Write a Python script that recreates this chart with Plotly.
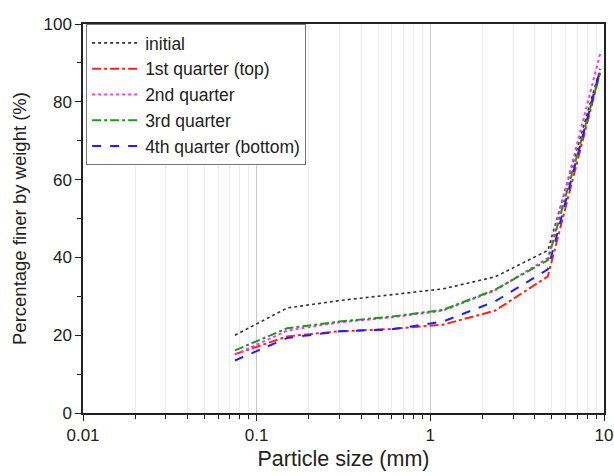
import plotly.graph_objects as go

sizes = [0.075, 0.15, 0.3, 0.6, 1.18, 2.36, 4.75, 9.5]
initial = [20.0, 27.0, 28.9, 30.4, 31.9, 35.0, 41.8, 88.5]
q1_top = [15.1, 19.7, 21.0, 21.6, 22.7, 26.3, 35.1, 87.5]
q2 = [15.0, 21.2, 23.3, 24.6, 26.3, 31.5, 39.8, 92.3]
q3 = [16.1, 21.8, 23.5, 24.8, 26.5, 31.7, 39.3, 87.5]
q4_bottom = [13.5, 19.3, 21.0, 21.5, 23.5, 28.7, 36.9, 88.3]

names = ["initial", "1st quarter (top)", "2nd quarter", "3rd quarter", "4th quarter (bottom)"]
series = [initial, q1_top, q2, q3, q4_bottom]
colors = ["#333333", "#ff2020", "#ff33ff", "#1a9a1a", "#2020ff"]
dashes = ["dot", "dashdot", "dot", "dashdot", "dash"]
widths = [1.6, 2, 2, 2, 2]

major_x = [0.01, 0.1, 1, 10]
minor_x = [m * d for d in (0.01, 0.1, 1) for m in range(2, 10)]

fig = go.Figure()
for n, s, c, d, w in zip(names, series, colors, dashes, widths):
    fig.add_trace(go.Scatter(x=sizes, y=s, name=n, mode="lines",
                             line=dict(color=c, dash=d, width=w)))

fig.update_layout(
    width=614, height=476,
    margin=dict(l=83, r=10, t=24, b=63),
    paper_bgcolor="white", plot_bgcolor="white",
    font=dict(family="Liberation Sans, Arial, sans-serif", size=17, color="#222"),
    legend=dict(x=0.006, y=1.0, xanchor="left", yanchor="top",
                bgcolor="white", bordercolor="#777", borderwidth=1,
                font=dict(size=17.5), tracegroupgap=0, itemwidth=48),
    xaxis=dict(type="log", range=[-2, 1], showline=True, linecolor="#222", linewidth=1.5,
               mirror=True, ticks="outside", ticklen=6, tickcolor="#222",
               tickvals=major_x, ticktext=["0.01", "0.1", "1", "10"],
               showgrid=True, gridcolor="#c8c8c8", gridwidth=1,
               minor=dict(tickvals=minor_x, ticks="outside", ticklen=4, tickcolor="#222",
                          showgrid=True, gridcolor="#ececec", gridwidth=1),
               title=dict(text="Particle size (mm)", font=dict(size=21.5), standoff=7),
               zeroline=False, automargin=False),
    yaxis=dict(range=[0, 100], showline=True, linecolor="#222", linewidth=1.5,
               mirror=True, ticks="outside", ticklen=6, tickcolor="#222",
               tickvals=[0, 20, 40, 60, 80, 100], showgrid=False,
               minor=dict(tickvals=[10, 30, 50, 70, 90], ticks="outside", ticklen=4,
                          tickcolor="#222", showgrid=False),
               title=dict(text="Percentage finer by weight (%)", font=dict(size=18.5), standoff=12),
               zeroline=False, automargin=False),
)

fig.write_html("out.html", config={"displayModeBar": False},
               post_script="document.body.style.margin='0';document.body.style.overflow='hidden';")
